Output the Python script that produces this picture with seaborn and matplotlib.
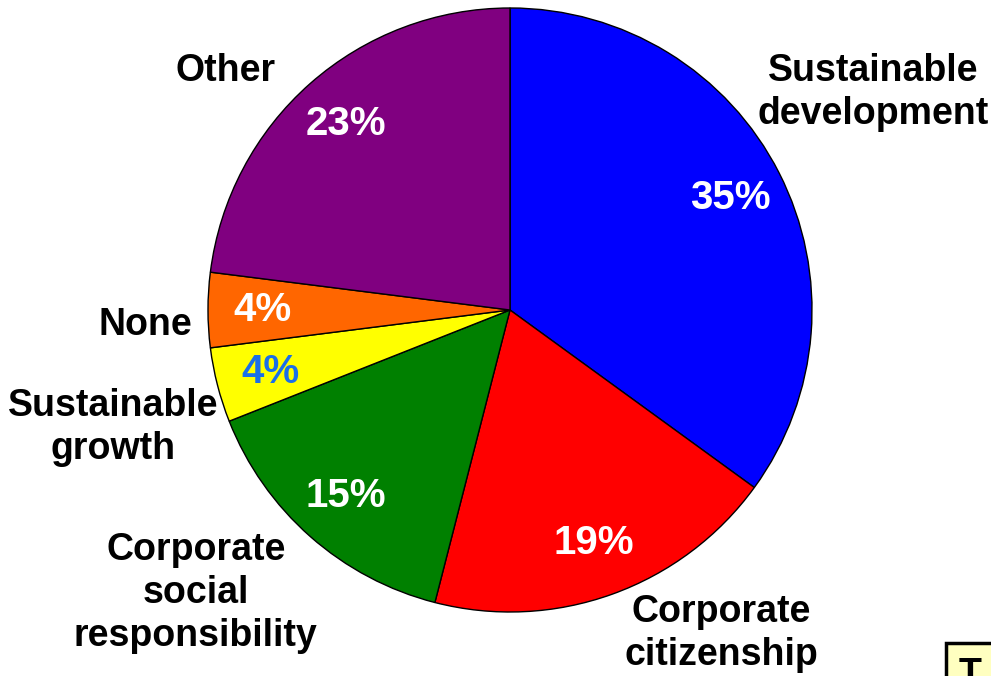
import numpy as np
import matplotlib
matplotlib.use("Agg")
import matplotlib.pyplot as plt
import seaborn as sns
from matplotlib.patches import Rectangle

# Survey answers: preferred term
categories = ["Sustainable\ndevelopment", "Corporate\ncitizenship",
              "Corporate\nsocial\nresponsibility", "Sustainable\ngrowth",
              "None", "Other"]
shares = [35, 19, 15, 4, 4, 23]
colors = ["#0000FF", "#FF0000", "#008000", "#FFFF00", "#FF6600", "#800080"]
pct_colors = ["white", "white", "white", "#1A6FE8", "white", "white"]

# category label placement (angle in degrees, distance in radii)
label_layout = [(30.9, 1.40), (-56.8, 1.28), (-138.0, 1.40),
                (-163.5, 1.37), (-177.6, 1.21), (139.9, 1.23)]

sns.set_theme(style="white")
plt.rcParams["font.family"] = ["Liberation Sans", "DejaVu Sans"]

W, H, dpi = 991, 676, 100
fig = plt.figure(figsize=(W / dpi, H / dpi), dpi=dpi)
ax = fig.add_axes([0, 0, 1, 1])

wedges, texts, autotexts = ax.pie(
    shares, colors=colors, startangle=90, counterclock=False,
    autopct="%d%%", pctdistance=0.82,
    wedgeprops=dict(edgecolor="black", linewidth=1.0),
    textprops=dict(fontsize=29, fontweight="bold"))

cx, cy, R = 510, 310, 302  # pie centre and radius in pixels
ax.set_aspect("auto")
ax.set_xlim((0 - cx) / R, (W - cx) / R)
ax.set_ylim((cy - H) / R, cy / R)
ax.axis("off")

for t, c in zip(autotexts, pct_colors):
    t.set_color(c)

for name, (ang, dist) in zip(categories, label_layout):
    a = np.deg2rad(ang)
    ax.text(dist * np.cos(a), dist * np.sin(a), name, ha="center", va="center",
            fontsize=27, fontweight="bold", color="black", linespacing=1.25,
            multialignment="center")

# partially visible note box in the lower-right corner
fig.patches.append(Rectangle((946 / W, -0.05), 0.2, 0.05 + (H - 643) / H,
                             transform=fig.transFigure, facecolor="#FFFFC0",
                             edgecolor="black", linewidth=2.5, zorder=5))
fig.text(959 / W, 1 - 657 / H, "T", transform=fig.transFigure, ha="left",
         va="top", fontsize=27, fontweight="bold", color="black", zorder=6)

fig.savefig("out.png", dpi=dpi)
